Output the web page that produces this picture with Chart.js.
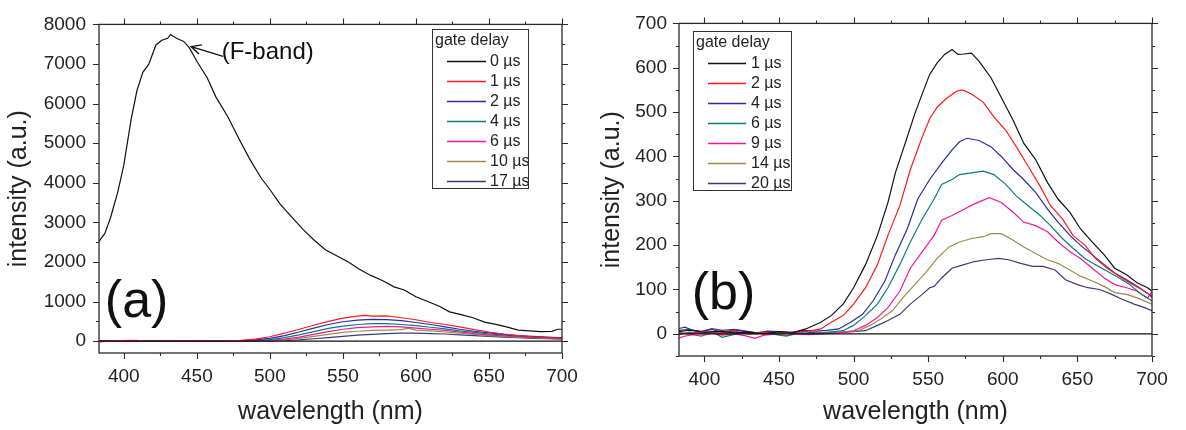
<!DOCTYPE html>
<html>
<head>
<meta charset="utf-8">
<script src="https://cdn.jsdelivr.net/npm/chart.js@4.4.1/dist/chart.umd.min.js"></script>
<style>
  body{margin:0;background:#fff;}
  .panel{position:absolute;top:0;width:593px;height:430px;}
  #pa{left:0;} #pb{left:593px;}
</style>
</head>
<body>
<div class="panel" id="pa"><canvas id="chart-a" width="593" height="430"></canvas></div>
<div class="panel" id="pb"><canvas id="chart-b" width="593" height="430"></canvas></div>
<script>
/*
  Two-panel emission spectra (gate delay series)
  (a) F-band plus weak delayed band, (b) delayed band only
*/
const FONT = '"Liberation Sans", Arial, sans-serif';
const colors = {
  black:'#111111', red:'#ff1a1a', blue:'#2b2ba8', teal:'#0b7d7d',
  pink:'#f5179a', olive:'#a08a4a', navy:'#3b3b7a'
};

// tick labels
const xTicks = [400,450,500,550,600,650,700];
const yTicksA = [0,1000,2000,3000,4000,5000,6000,7000,8000];
const yTicksB = [0,100,200,300,400,500,600,700];

// ---- panel (a) data: [wavelength nm, intensity] ----
const labelsA = ['0 µs','1 µs','2 µs','4 µs','6 µs','10 µs','17 µs'];
const a0us = [[383,2520],[387,2720],[391,3130],[396,3790],[400,4450],[405,5600],[409,6330],[413,6790],[417,6990],[422,7480],[426,7600],[430,7650],[432,7745],[436,7650],[441,7570],[445,7400],[450,7070],[457,6660],[463,6170],[471,5680],[479,5100],[486,4610],[494,4120],[500,3830],[507,3460],[515,3130],[523,2810],[530,2560],[538,2310],[546,2150],[554,1990],[561,1820],[569,1660],[577,1530],[585,1370],[592,1290],[600,1120],[608,1000],[616,880],[623,740],[631,670],[639,590],[647,480],[654,430],[662,360],[670,280],[678,260],[685,240],[693,245],[697,300],[700,300]];
const a1us = [[383,-20],[395,15],[408,20],[420,-10],[440,5],[460,0],[480,20],[490,50],[500,110],[510,200],[520,300],[530,400],[540,500],[550,580],[560,630],[565,650],[570,630],[580,640],[590,590],[600,540],[610,470],[620,420],[630,360],[640,290],[650,230],[660,180],[670,140],[680,110],[690,90],[700,80]];
const a2us = [[383,10],[400,5],[420,0],[450,0],[480,10],[490,30],[500,70],[510,140],[520,230],[530,330],[540,420],[550,490],[560,530],[570,550],[580,545],[590,520],[600,470],[610,420],[620,360],[630,300],[640,250],[650,210],[660,170],[670,140],[680,120],[690,100],[700,85]];
const a4us = [[383,0],[410,10],[440,0],[470,0],[490,15],[500,40],[510,90],[520,160],[530,240],[540,320],[550,380],[560,420],[570,440],[580,440],[590,420],[600,390],[610,350],[620,310],[630,260],[640,220],[650,180],[660,150],[670,130],[680,110],[690,90],[700,80]];
const a6us = [[383,-10],[410,0],[440,-5],[480,0],[500,20],[510,50],[520,100],[530,170],[540,240],[550,300],[560,340],[570,360],[580,370],[590,360],[600,330],[610,300],[620,270],[630,230],[640,190],[650,160],[660,130],[670,110],[680,95],[690,80],[700,70]];
const a10us = [[383,0],[430,0],[480,0],[500,10],[510,30],[520,70],[530,120],[540,170],[550,220],[560,250],[570,270],[580,280],[590,290],[595,330],[600,280],[610,260],[620,230],[630,200],[640,170],[650,140],[660,120],[670,100],[680,85],[690,70],[700,60]];
const a17us = [[383,5],[430,0],[490,0],[510,10],[520,30],[530,60],[540,90],[550,120],[560,150],[570,170],[580,190],[590,200],[600,200],[610,190],[620,180],[630,160],[640,140],[650,120],[660,100],[670,85],[680,70],[690,60],[700,50]];

// ---- panel (b) data ----
const labelsB = ['1 µs','2 µs','4 µs','6 µs','9 µs','14 µs','20 µs'];
const b1us = [[383,5],[390,8],[400,3],[410,6],[420,2],[430,4],[440,0],[450,5],[460,3],[468,11],[478,26],[485,41],[493,67],[500,104],[508,156],[516,222],[523,296],[528,363],[536,444],[541,496],[546,541],[551,585],[556,611],[561,630],[566,641],[570,630],[574,631],[579,633],[584,615],[592,578],[599,533],[607,481],[614,430],[622,393],[630,341],[637,304],[645,274],[652,237],[660,207],[668,178],[675,148],[683,133],[690,115],[697,104],[700,96]];
const b2us = [[383,2],[390,0],[400,5],[410,2],[420,6],[430,0],[440,3],[450,2],[460,4],[470,6],[478,11],[485,26],[493,41],[500,67],[508,104],[516,156],[523,222],[531,289],[538,370],[546,444],[551,485],[556,511],[562,530],[569,547],[573,550],[579,541],[587,522],[594,489],[602,459],[609,422],[617,378],[625,333],[632,289],[640,259],[647,222],[655,200],[662,170],[670,148],[678,130],[685,115],[693,100],[698,89],[700,81]];
const b4us = [[383,12],[387,15],[392,8],[398,5],[405,10],[412,3],[420,9],[428,5],[435,0],[442,6],[450,5],[458,2],[465,8],[475,6],[482,8],[490,11],[498,26],[506,44],[513,74],[521,119],[528,178],[536,237],[543,304],[551,348],[559,385],[566,415],[571,433],[576,441],[584,436],[592,422],[599,400],[607,370],[614,348],[622,319],[630,281],[637,252],[645,222],[652,200],[660,178],[668,156],[675,137],[683,122],[690,107],[698,89],[700,85]];
const b6us = [[383,-2],[390,4],[398,0],[405,5],[412,-8],[418,-3],[425,2],[432,0],[440,3],[448,-2],[455,-5],[462,2],[470,0],[480,3],[493,7],[500,19],[508,41],[516,67],[523,104],[531,156],[538,207],[546,259],[554,304],[559,337],[566,348],[571,359],[579,363],[587,367],[594,359],[602,337],[609,311],[617,289],[625,267],[632,244],[640,215],[647,193],[655,170],[662,156],[670,141],[678,126],[685,111],[693,89],[700,74]];
const b9us = [[383,-10],[386,-6],[392,-2],[398,-5],[405,2],[412,-3],[420,0],[427,-4],[434,-10],[440,-3],[448,-1],[455,-4],[462,0],[470,-2],[480,0],[490,2],[500,7],[508,19],[516,37],[523,59],[531,96],[538,148],[546,185],[554,222],[559,256],[566,267],[574,281],[581,293],[591,307],[599,296],[607,274],[614,252],[622,244],[630,230],[637,207],[645,185],[652,170],[660,148],[668,126],[675,111],[683,104],[690,96],[697,81],[700,95]];
const b14us = [[383,3],[390,0],[398,6],[405,3],[412,0],[420,4],[430,0],[440,5],[450,0],[460,2],[470,0],[480,2],[490,3],[503,7],[511,19],[518,33],[526,52],[533,81],[541,111],[549,141],[556,170],[564,196],[571,207],[579,215],[587,219],[592,226],[599,226],[607,211],[614,196],[622,181],[630,167],[637,159],[645,144],[652,130],[660,119],[668,107],[675,93],[683,89],[690,81],[700,67]];
const b20us = [[383,8],[390,10],[398,5],[405,12],[412,8],[420,10],[428,6],[435,2],[442,5],[450,4],[458,3],[465,5],[475,2],[485,3],[495,4],[508,7],[516,19],[523,30],[531,44],[538,67],[546,89],[551,104],[554,107],[559,126],[566,148],[574,156],[581,163],[589,167],[597,170],[604,167],[612,159],[620,152],[627,152],[635,144],[642,122],[650,111],[657,104],[665,100],[673,89],[680,78],[688,67],[695,59],[700,52]];

const zeroLine = [[383,0],[700,0]];
const seriesColors = [colors.black, colors.red, colors.blue, colors.teal, colors.pink, colors.olive, colors.navy];

function toPts(arr){ return arr.map(p=>({x:p[0], y:p[1]})); }

function makeDatasets(labels, series){
  const ds = series.map((s,i)=>({
    label:labels[i], data:toPts(s), borderColor:seriesColors[i],
    borderWidth:1.2, pointRadius:0, tension:0, fill:false, order:i+1
  }));
  ds.push({label:'', data:toPts(zeroLine), borderColor:'#111', borderWidth:1.3, pointRadius:0, order:0, inLegend:false});
  return ds;
}

// frame + ticks on all four sides (outward), plus in-plot legend and annotation text
const decoPlugin = {
  id:'deco',
  afterDatasetsDraw(chart){
    const o = chart.options.plugins.deco;
    const {ctx, chartArea:a, scales:{x, y}} = chart;
    ctx.save();
    ctx.strokeStyle = '#2a2a2a'; ctx.lineWidth = 1.3;
    ctx.strokeRect(a.left, a.top, a.right-a.left, a.bottom-a.top);
    ctx.lineWidth = 1.1;
    ctx.beginPath();
    for(let v=Math.ceil(x.min/o.xMinor)*o.xMinor; v<=x.max+0.01; v+=o.xMinor){
      const px = Math.round(x.getPixelForValue(v))+0.5;
      const len = (v % o.xMajor === 0) ? 6 : 3;
      ctx.moveTo(px, a.bottom); ctx.lineTo(px, a.bottom+len);
      ctx.moveTo(px, a.top); ctx.lineTo(px, a.top-len);
    }
    for(let v=Math.ceil(y.min/o.yMinor)*o.yMinor; v<=y.max+0.01; v+=o.yMinor){
      const py = Math.round(y.getPixelForValue(v))+0.5;
      const len = (v % o.yMajor === 0) ? 6 : 3;
      ctx.moveTo(a.left, py); ctx.lineTo(a.left-len, py);
      ctx.moveTo(a.right, py); ctx.lineTo(a.right+len, py);
    }
    ctx.stroke();

    // legend box
    const L = o.legend;
    ctx.fillStyle = '#fff';
    ctx.fillRect(L.x, L.y, L.w, L.h);
    ctx.strokeStyle = '#333'; ctx.lineWidth = 1;
    ctx.strokeRect(L.x+0.5, L.y+0.5, L.w, L.h);
    ctx.fillStyle = '#222';
    ctx.font = '16px ' + FONT;
    ctx.textBaseline = 'middle'; ctx.textAlign = 'left';
    ctx.fillText('gate delay', L.x+3, L.y+12);
    chart.data.datasets.filter(d=>d.inLegend!==false).forEach((d,i)=>{
      const ly = L.y + 32 + i*20;
      ctx.strokeStyle = d.borderColor; ctx.lineWidth = 1.4;
      ctx.beginPath(); ctx.moveTo(L.lineX0, ly+0.5); ctx.lineTo(L.lineX1, ly+0.5); ctx.stroke();
      ctx.fillStyle = '#222';
      ctx.fillText(d.label, L.textX, ly+1);
    });

    // panel letter
    ctx.font = '52px ' + FONT;
    ctx.textBaseline = 'alphabetic';
    ctx.fillStyle = '#111';
    ctx.fillText(o.letter.text, x.getPixelForValue(o.letter.x), y.getPixelForValue(o.letter.y));

    if(o.note){
      const n = o.note;
      ctx.font = '24px ' + FONT;
      const tx = x.getPixelForValue(n.x), ty = y.getPixelForValue(n.y);
      ctx.fillText(n.text, tx, ty);
      const hx = x.getPixelForValue(n.hx), hy = y.getPixelForValue(n.hy);
      const sx = x.getPixelForValue(n.sx), sy = y.getPixelForValue(n.sy);
      const ang = Math.atan2(sy-hy, sx-hx);
      ctx.strokeStyle = '#111'; ctx.lineWidth = 1.3;
      ctx.beginPath();
      ctx.moveTo(sx, sy); ctx.lineTo(hx, hy);
      ctx.moveTo(hx + 11*Math.cos(ang-0.45), hy + 11*Math.sin(ang-0.45));
      ctx.lineTo(hx, hy);
      ctx.lineTo(hx + 11*Math.cos(ang+0.45), hy + 11*Math.sin(ang+0.45));
      ctx.stroke();
    }
    ctx.restore();
  }
};

function buildChart(id, cfg){
  const tickFont = {family:FONT, size:19};
  const titleFont = {family:FONT, size:25};
  return new Chart(document.getElementById(id).getContext('2d'), {
    type:'line',
    data:{datasets:makeDatasets(cfg.labels, cfg.series)},
    options:{
      responsive:false, animation:false, devicePixelRatio:1,
      layout:{padding:cfg.padding},
      plugins:{legend:{display:false}, tooltip:{enabled:false}, deco:cfg.deco},
      scales:{
        x:{
          type:'linear', min:383, max:700,
          grid:{display:false, drawTicks:false}, border:{display:false},
          ticks:{font:tickFont, color:'#222', padding:cfg.xPad, maxRotation:0, autoSkip:false, callback:v=>String(v)},
          afterBuildTicks(s){ s.ticks = xTicks.map(v=>({value:v})); },
          afterFit(s){ s.height = cfg.xHeight; },
          title:{display:true, text:'wavelength (nm)', font:titleFont, color:'#222', padding:{top:0,bottom:3}}
        },
        y:{
          min:cfg.yMin, max:cfg.yMax,
          grid:{display:false, drawTicks:false}, border:{display:false},
          ticks:{font:tickFont, color:'#222', padding:cfg.yPad, autoSkip:false, callback:v=>String(v)},
          afterBuildTicks(s){ s.ticks = cfg.yTicks.map(v=>({value:v})); },
          afterFit(s){ s.width = cfg.yWidth; },
          title:{display:true, text:'intensity (a.u.)', font:titleFont, color:'#222', padding:{top:4,bottom:0}}
        }
      }
    },
    plugins:[decoPlugin]
  });
}

const charts = {};
charts.a = buildChart('chart-a', {
  labels:labelsA, series:[a0us,a1us,a2us,a4us,a6us,a10us,a17us],
  yMin:-300, yMax:8000, yTicks:yTicksA,
  padding:{top:15, right:31, left:0, bottom:0}, yWidth:99, xHeight:77, xPad:12, yPad:13,
  deco:{
    xMinor:25, xMajor:50, yMinor:500, yMajor:1000,
    legend:{x:432, y:29, w:96, h:159, lineX0:447, lineX1:486, textX:490},
    letter:{text:'(a)', x:387, y:600},
    note:{text:'(F-band)', x:467, y:7120, hx:446, hy:7440, sx:468, sy:7190}
  }
});
charts.b = buildChart('chart-b', {
  labels:labelsB, series:[b1us,b2us,b4us,b6us,b9us,b14us,b20us],
  yMin:-50, yMax:700, yTicks:yTicksB,
  padding:{top:18, right:34, left:0, bottom:0}, yWidth:86, xHeight:74, xPad:12, yPad:12,
  deco:{
    xMinor:25, xMajor:50, yMinor:50, yMajor:100,
    legend:{x:100, y:31, w:98, h:159, lineX0:115, lineX1:153, textX:158},
    letter:{text:'(b)', x:391.5, y:56}
  }
});
</script>
</body>
</html>
